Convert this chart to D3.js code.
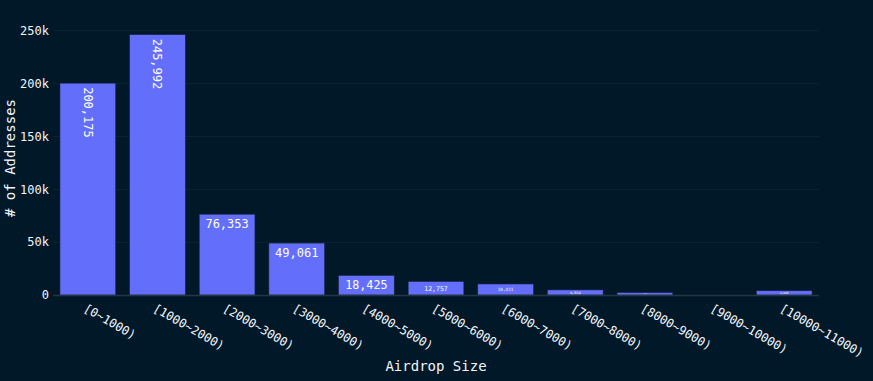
<!DOCTYPE html>
<html>
<head>
<meta charset="utf-8">
<script src="https://cdn.jsdelivr.net/npm/d3@7"></script>
<style>
  body { margin: 0; background: #011829; }
  svg text { font-family: "DejaVu Sans Mono", monospace; }
</style>
</head>
<body>
<div id="chart"></div>
<script>
// Airdrop size buckets and address counts
const categories = [
  "[0~1000)", "[1000~2000)", "[2000~3000)", "[3000~4000)", "[4000~5000)",
  "[5000~6000)", "[6000~7000)", "[7000~8000)", "[8000~9000)", "[9000~10000)",
  "[10000~11000)",
];
const counts = [200175, 245992, 76353, 49061, 18425, 12757, 10411, 4814, 2263, 0, 4030];
const yTicks = [0, 50000, 100000, 150000, 200000, 250000];

const WIDTH = 873;
const HEIGHT = 381;
const margin = { top: 21, right: 54, bottom: 86, left: 53 };

const BG = "#011829";
const BAR = "#636efa";
const TEXT = "#f2f5fa";

const svg = d3
  .select("#chart")
  .append("svg")
  .attr("width", WIDTH)
  .attr("height", HEIGHT);

svg.append("rect").attr("width", WIDTH).attr("height", HEIGHT).attr("fill", BG);

const x = d3
  .scaleBand()
  .domain(categories)
  .range([margin.left, WIDTH - margin.right])
  .paddingInner(0.2)
  .paddingOuter(0.1);

const y = d3
  .scaleLinear()
  .domain([0, d3.max(counts) * 1.0526])
  .range([HEIGHT - margin.bottom, margin.top]);

// Grid lines
svg
  .append("g")
  .selectAll("line")
  .data(yTicks.filter((d) => d > 0))
  .join("line")
  .attr("x1", margin.left)
  .attr("x2", WIDTH - margin.right)
  .attr("y1", (d) => Math.round(y(d)) + 0.5)
  .attr("y2", (d) => Math.round(y(d)) + 0.5)
  .attr("stroke", "#08222f")
  .attr("stroke-width", 1);

// Y axis labels
const yAxis = svg
  .append("g")
  .attr("transform", `translate(${margin.left},0)`)
  .call(d3.axisLeft(y).tickValues(yTicks).tickFormat(d3.format("~s")).tickSize(0).tickPadding(4));
yAxis.select(".domain").remove();
yAxis.selectAll("text").attr("fill", TEXT).attr("font-size", 12);

const data = categories.map((c, i) => ({ cat: c, value: counts[i] }));

// Bars
svg
  .append("g")
  .selectAll("rect")
  .data(data)
  .join("rect")
  .attr("x", (d) => x(d.cat))
  .attr("y", (d) => y(d.value))
  .attr("width", x.bandwidth())
  .attr("height", (d) => y(0) - y(d.value))
  .attr("fill", BAR)
  .attr("stroke", "#1b2540")
  .attr("stroke-width", 0.6);

// Zero line
svg
  .append("line")
  .attr("x1", margin.left)
  .attr("x2", WIDTH - margin.right)
  .attr("y1", Math.round(y(0)) + 0.5)
  .attr("y2", Math.round(y(0)) + 0.5)
  .attr("stroke", "#283442")
  .attr("stroke-width", 1.5);

// Bar value labels, fitted inside the bar like plotly does
const fmt = d3.format(",");
const labels = svg.append("g");
data.forEach((d) => {
  if (d.value <= 0) return;
  const txt = fmt(d.value);
  const bw = x.bandwidth();
  const bh = y(0) - y(d.value);
  const cx = x(d.cat) + bw / 2;
  const top = y(d.value);
  const charW = 0.602;
  let size = 12;
  const textW = txt.length * charW * size;
  const textH = size * 1.15;
  if (textW <= bw - 6 && textH <= bh - 6) {
    labels
      .append("text")
      .attr("x", cx)
      .attr("y", top + 3 + textH / 2)
      .attr("dy", "0.35em")
      .attr("text-anchor", "middle")
      .attr("fill", "#ffffff")
      .attr("font-size", size)
      .text(txt);
  } else if (textW <= bh - 6 && textH <= bw - 6) {
    labels
      .append("text")
      .attr("transform", `translate(${cx},${top + 4}) rotate(90)`)
      .attr("dy", "0.35em")
      .attr("text-anchor", "start")
      .attr("fill", "#ffffff")
      .attr("font-size", size)
      .text(txt);
  } else {
    const pad = bh > 10 ? 3 : 0.5;
    const s = Math.min((bh - 2 * pad) / textH, (bw - 6) / textW);
    size = size * s;
    labels
      .append("text")
      .attr("x", cx)
      .attr("y", top + bh / 2)
      .attr("dy", "0.35em")
      .attr("text-anchor", "middle")
      .attr("fill", "#ffffff")
      .attr("font-size", size)
      .text(txt);
  }
});

// X axis tick labels, angled
svg
  .append("g")
  .selectAll("text")
  .data(categories)
  .join("text")
  .attr("transform", (d) => `translate(${x(d) + x.bandwidth() / 2 - 3},${y(0) + 12}) rotate(30)`)
  .attr("dy", "0.35em")
  .attr("text-anchor", "start")
  .attr("fill", TEXT)
  .attr("font-size", 12)
  .text((d) => d);

// Axis titles
svg
  .append("text")
  .attr("x", (margin.left + WIDTH - margin.right) / 2)
  .attr("y", 371)
  .attr("text-anchor", "middle")
  .attr("fill", TEXT)
  .attr("font-size", 14)
  .text("Airdrop Size");

svg
  .append("text")
  .attr("transform", `translate(10,${(margin.top + HEIGHT - margin.bottom) / 2}) rotate(-90)`)
  .attr("dy", "0.35em")
  .attr("text-anchor", "middle")
  .attr("fill", TEXT)
  .attr("font-size", 14)
  .text("# of Addresses");
</script>
</body>
</html>
